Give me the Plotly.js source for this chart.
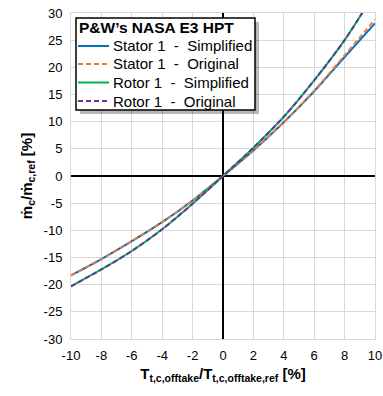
<!DOCTYPE html>
<html>
<head>
<meta charset="utf-8">
<script src="https://cdn.plot.ly/plotly-3.0.1.min.js"></script>
<style>html,body{margin:0;padding:0;background:#fff;}#chart{width:383px;height:396px;}</style>
</head>
<body>
<div id="chart"></div>
<script>
// Data
const tempRatio = [-10, -8, -6, -4, -2, 0, 2, 4, 6, 8, 10];
const stator1Simplified = [-18.3, -15.3, -12.0, -8.5, -4.5, 0, 4.7, 9.9, 15.6, 21.9, 28.1];
const stator1Original   = [-18.3, -15.3, -12.0, -8.5, -4.5, 0, 4.7, 9.9, 15.7, 22.2, 28.8];
const rotor1Simplified  = [-20.3, -17.2, -13.8, -9.8, -5.1, 0, 5.2, 10.9, 17.6, 25.0, 33.8];
const rotor1Original    = [-20.3, -17.2, -13.8, -9.8, -5.1, 0, 5.2, 10.9, 17.6, 25.0, 33.8];
const seriesNames = ["Stator 1  -  Simplified", "Stator 1  -  Original",
                     "Rotor 1  -  Simplified", "Rotor 1  -  Original"];
const legendTitle = "P&W\u2019s NASA E3 HPT";
const xTicks = [-10, -8, -6, -4, -2, 0, 2, 4, 6, 8, 10];
const xTickText = ["-10", "-8", "-6", "-4", "-2", "0", "2", "4", "6", "8", "10"];
const yTicks = [-30, -25, -20, -15, -10, -5, 0, 5, 10, 15, 20, 25, 30];
const yTickText = ["-30", "-25", "-20", "-15", "-10", "-5", "0", "5", "10", "15", "20", "25", "30"];

const font = "Liberation Sans, Arial, sans-serif";
const colors = ['#0070C0', '#ED7D31', '#00B050', '#7030A0'];
const dashes = ['solid', '5px,3px', 'solid', '5px,3px'];
const seriesY = [stator1Simplified, stator1Original, rotor1Simplified, rotor1Original];

const data = seriesY.map((y, i) => ({
  x: tempRatio, y: y, name: seriesNames[i], type: 'scatter', mode: 'lines', showlegend: false,
  line: {color: colors[i], width: 2, dash: dashes[i], shape: 'spline', smoothing: 0.8}
}));

// legend drawn in paper coordinates (plot area: 71..375 px wide, 13..339 px tall)
const W = 383, H = 396, mL = 71, mR = 8, mT = 13, mB = 57;
const pw = W - mL - mR, ph = H - mT - mB;
const px = v => (v - mL) / pw;
const py = v => 1 - (v - mT) / ph;
const nbsp = s => s.replace(/ /g, '\u00a0');

const shapes = [
  {type: 'rect', xref: 'paper', yref: 'paper', layer: 'above',
   x0: px(80), x1: px(259), y0: py(114), y1: py(22),
   fillcolor: 'rgba(0,0,0,0.28)', line: {width: 0}},
  {type: 'rect', xref: 'paper', yref: 'paper', layer: 'above',
   x0: px(76), x1: px(255), y0: py(110), y1: py(18),
   fillcolor: '#fff', line: {color: '#000', width: 1.5}}
];
const annotations = [
  {xref: 'paper', yref: 'paper', x: px(77), y: py(28), xanchor: 'left', yanchor: 'middle', showarrow: false,
   text: '<b>' + legendTitle.replace('&', '&amp;') + '</b>', font: {family: font, size: 15.5, color: '#000'}}
];
const rowY = [46, 64, 82.5, 101];
seriesNames.forEach((n, i) => {
  shapes.push({type: 'line', xref: 'paper', yref: 'paper', layer: 'above',
    x0: px(78), x1: px(109), y0: py(rowY[i]), y1: py(rowY[i]),
    line: {color: colors[i], width: 2, dash: dashes[i]}});
  annotations.push({xref: 'paper', yref: 'paper', x: px(111), y: py(rowY[i]), xanchor: 'left', yanchor: 'middle',
    showarrow: false, text: nbsp(n), font: {family: font, size: 15, color: '#000'}});
});

const layout = {
  width: W, height: H,
  margin: {l: mL, r: mR, t: mT, b: mB},
  paper_bgcolor: '#fff', plot_bgcolor: '#fff',
  font: {family: font, size: 13, color: '#000'},
  showlegend: false,
  shapes: shapes,
  annotations: annotations,
  xaxis: {
    range: [-10, 10], tickvals: xTicks, ticktext: xTickText, ticks: '', showgrid: true, gridcolor: '#d9d9d9', gridwidth: 1,
    zeroline: true, zerolinecolor: '#000', zerolinewidth: 1.5,
    showline: true, linecolor: '#d9d9d9', linewidth: 1, mirror: true,
    ticklabelstandoff: 4,
    tickfont: {family: font, size: 13, color: '#000'},
    title: {text: '<b>T<sub>t,c,offtake</sub>/T<sub>t,c,offtake,ref</sub> [%]</b>', font: {family: font, size: 15, color: '#000'}, standoff: 6}
  },
  yaxis: {
    range: [-30, 30], tickvals: yTicks, ticktext: yTickText, ticks: '', showgrid: true, gridcolor: '#d9d9d9', gridwidth: 1,
    zeroline: true, zerolinecolor: '#000', zerolinewidth: 1.5,
    showline: true, linecolor: '#d9d9d9', linewidth: 1, mirror: true,
    ticklabelstandoff: 5,
    tickfont: {family: font, size: 13, color: '#000'},
    title: {text: '<b>\u1E41<sub>c</sub>/\u1E41<sub>c,ref</sub> [%]</b>', font: {family: font, size: 15, color: '#000'}, standoff: 7}
  }
};
Plotly.newPlot('chart', data, layout, {displayModeBar: false, staticPlot: true});
</script>
</body>
</html>
